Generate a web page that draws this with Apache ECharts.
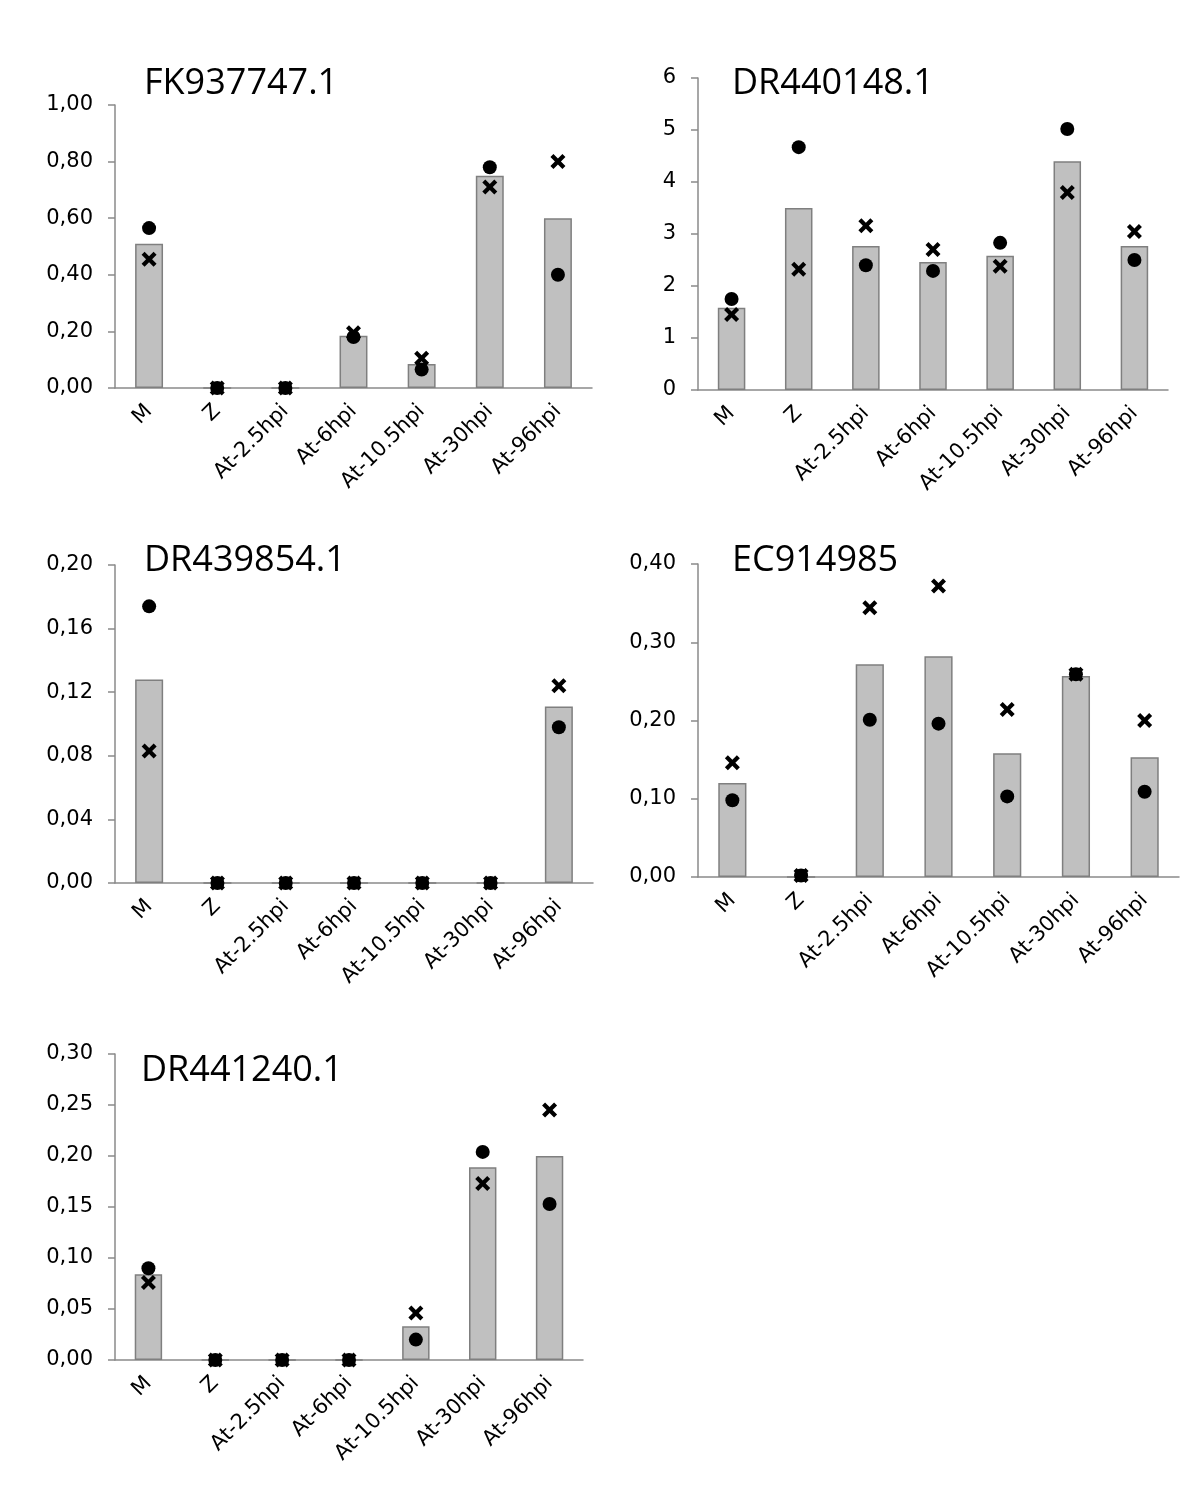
<!DOCTYPE html>
<html>
<head>
<meta charset="utf-8">
<script src="https://cdn.jsdelivr.net/npm/echarts@6/dist/echarts.min.js"></script>
<style>
  html, body { margin: 0; padding: 0; background: #fff; }
  #chart { width: 1200px; height: 1507px; }
</style>
</head>
<body>
<div id="chart"></div>
<script>
// categories shared by all panels
const categories = ['M', 'Z', 'At-2.5hpi', 'At-6hpi', 'At-10.5hpi', 'At-30hpi', 'At-96hpi'];

// FK937747.1
const fkBar   = [0.51, 0, 0, 0.185, 0.085, 0.75, 0.60];
const fkDot   = [0.565, 0, 0, 0.18, 0.065, 0.78, 0.40];
const fkCross = [0.455, 0, 0, 0.195, 0.105, 0.71, 0.80];

// DR440148.1
const dr148Bar   = [1.58, 3.50, 2.77, 2.46, 2.58, 4.40, 2.77];
const dr148Dot   = [1.75, 4.67, 2.40, 2.29, 2.83, 5.02, 2.50];
const dr148Cross = [1.45, 2.32, 3.16, 2.70, 2.38, 3.80, 3.05];

// DR439854.1
const dr854Bar   = [0.128, 0, 0, 0, 0, 0, 0.111];
const dr854Dot   = [0.174, 0, 0, 0, 0, 0, 0.098];
const dr854Cross = [0.083, 0, 0, 0, 0, 0, 0.124];

// EC914985
const ecBar   = [0.120, 0, 0.272, 0.282, 0.158, 0.257, 0.153];
const ecDot   = [0.098, 0.002, 0.201, 0.196, 0.103, 0.259, 0.109];
const ecCross = [0.146, 0.002, 0.344, 0.372, 0.214, 0.259, 0.200];

// DR441240.1
const dr240Bar   = [0.084, 0, 0, 0, 0.033, 0.189, 0.200];
const dr240Dot   = [0.090, 0, 0, 0, 0.020, 0.204, 0.153];
const dr240Cross = [0.076, 0, 0, 0, 0.046, 0.173, 0.245];

// tick settings per panel
const yMax      = [1.0, 6, 0.20, 0.40, 0.30];
const yInterval = [0.2, 1, 0.04, 0.10, 0.05];
const yDecimals = [2, 0, 2, 2, 2];

const panels = [
  {name: 'FK937747.1', bar: fkBar, dot: fkDot, cross: fkCross,
   grid: {left: 115, top: 105, width: 477, height: 283}, title: {left: 144, top: 66}},
  {name: 'DR440148.1', bar: dr148Bar, dot: dr148Dot, cross: dr148Cross,
   grid: {left: 698, top: 78, width: 470, height: 312}, title: {left: 732, top: 66}},
  {name: 'DR439854.1', bar: dr854Bar, dot: dr854Dot, cross: dr854Cross,
   grid: {left: 115, top: 565, width: 478, height: 318}, title: {left: 144, top: 543}},
  {name: 'EC914985', bar: ecBar, dot: ecDot, cross: ecCross,
   grid: {left: 698, top: 564, width: 481, height: 313}, title: {left: 732, top: 543}},
  {name: 'DR441240.1', bar: dr240Bar, dot: dr240Dot, cross: dr240Cross,
   grid: {left: 115, top: 1054, width: 468, height: 306}, title: {left: 141, top: 1053}}
];

const crossPath = 'path://M2,0 L5,3 L8,0 L10,2 L7,5 L10,8 L8,10 L5,7 L2,10 L0,8 L3,5 L0,2 Z';
const axisColor = '#8a8a8a';
const font = 'DejaVu Sans';

const option = {
  animation: false,
  backgroundColor: '#fff',
  title: [], grid: [], xAxis: [], yAxis: [], series: []
};

panels.forEach((p, i) => {
  option.title.push({
    text: p.name, left: p.title.left, top: p.title.top, padding: 0,
    textStyle: {fontFamily: 'Open Sans', fontSize: 36, fontWeight: 'normal', color: '#000'}
  });
  option.grid.push(p.grid);
  option.xAxis.push({
    type: 'category', gridIndex: i, data: categories,
    axisLine: {lineStyle: {color: axisColor, width: 1.5}},
    axisTick: {length: 8, lineStyle: {color: axisColor, width: 1.5}},
    axisLabel: {rotate: 45, margin: 20, interval: 0, fontFamily: font, fontSize: 21, color: '#000'}
  });
  option.yAxis.push({
    type: 'value', gridIndex: i, min: 0, max: yMax[i], interval: yInterval[i],
    splitLine: {show: false},
    axisLine: {show: true, lineStyle: {color: axisColor, width: 1.5}},
    axisTick: {show: true, length: 7, lineStyle: {color: axisColor, width: 1.5}},
    axisLabel: {
      margin: 22, fontFamily: font, fontSize: 21, color: '#000',
      formatter: v => v.toFixed(yDecimals[i]).replace('.', ',')
    }
  });
  option.series.push({
    type: 'bar', xAxisIndex: i, yAxisIndex: i, data: p.bar, barWidth: '41%',
    itemStyle: {color: '#c0c0c0', borderColor: '#7f7f7f', borderWidth: 1.5}
  });
  option.series.push({
    type: 'scatter', xAxisIndex: i, yAxisIndex: i, data: p.dot, z: 3,
    symbol: 'circle', symbolSize: 14, itemStyle: {color: '#000', opacity: 1}
  });
  option.series.push({
    type: 'scatter', xAxisIndex: i, yAxisIndex: i, data: p.cross, z: 4,
    symbol: crossPath, symbolSize: 15, itemStyle: {color: '#000', opacity: 1}
  });
});

const myChart = echarts.init(document.getElementById('chart'), null, {renderer: 'canvas'});
myChart.setOption(option);
</script>
</body>
</html>
